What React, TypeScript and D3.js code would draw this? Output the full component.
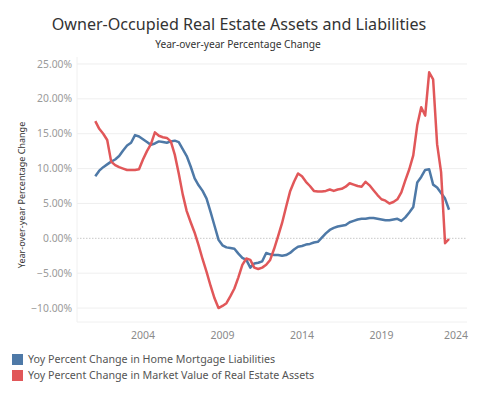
import React from 'react';
import * as d3 from 'd3';

// quarterly observations, 2001 Q1 .. 2023 Q2
const startYear = 2001;

const mortgageLiabilities = [
  8.9, 9.7, 10.2, 10.6,
  11.0, 11.3, 11.8, 12.6,
  13.3, 13.7, 14.8, 14.6,
  14.2, 13.8, 13.4, 13.6,
  13.9, 13.8, 13.7, 13.9,
  14.0, 13.8, 12.8, 11.8,
  10.3, 8.6, 7.6, 6.8,
  5.7, 3.8, 1.8, -0.2,
  -1.0, -1.3, -1.4, -1.5,
  -2.2, -2.8, -3.1, -4.2,
  -3.6, -3.5, -3.3, -2.1,
  -2.3, -2.4, -2.4, -2.5,
  -2.4, -2.1, -1.6, -1.2,
  -1.1, -0.9, -0.8, -0.6,
  -0.5, 0.1, 0.7, 1.2,
  1.5, 1.7, 1.8, 1.9,
  2.3, 2.5, 2.7, 2.8,
  2.8, 2.9, 2.9, 2.8,
  2.7, 2.6, 2.6, 2.7,
  2.8, 2.5, 3.0, 3.7,
  4.5, 8.0, 8.8, 9.8,
  9.9, 7.7, 7.3, 6.5,
  5.7, 4.1,
];

const realEstateAssets = [
  16.8, 15.7, 15.0, 14.1,
  11.0, 10.5, 10.2, 10.0,
  9.8, 9.8, 9.8, 9.9,
  11.3, 12.5, 13.5, 15.2,
  14.7, 14.5, 14.4, 13.9,
  12.0, 9.3, 6.3, 3.9,
  2.3, 0.8, -1.0, -3.0,
  -4.8, -6.8, -8.6, -10.0,
  -9.7, -9.3, -8.3, -7.2,
  -5.6, -3.8, -2.9, -3.1,
  -4.2, -4.4, -4.2, -3.8,
  -3.1, -1.5, 0.3, 2.2,
  4.5, 6.7, 8.1, 9.3,
  8.9, 8.1, 7.5, 6.8,
  6.7, 6.7, 6.8, 7.0,
  6.8, 7.0, 7.1, 7.4,
  7.9, 7.7, 7.5, 7.4,
  8.1, 7.6, 6.9, 6.2,
  5.6, 5.4, 5.0, 5.2,
  5.6, 6.6, 8.3, 9.9,
  11.9, 16.2, 18.8, 17.6,
  23.8, 22.8, 13.5, 9.5,
  -0.7, -0.1,
];

const yTicks = [-10, -5, 0, 5, 10, 15, 20, 25];
const xTicks = [2004, 2009, 2014, 2019, 2024];

const seriesNames = [
  'Yoy Percent Change in Home Mortgage Liabilities',
  'Yoy Percent Change in Market Value of Real Estate Assets',
];
const seriesColors = ['#4e79a7', '#e15759'];

const W = 477;
const H = 397;
const plot = { left: 77, right: 467, top: 57, bottom: 322 };
const font = '"Noto Sans", "Open Sans", sans-serif';

export default function App() {
  const x = d3.scaleLinear().domain([1999.85, 2024.38]).range([plot.left, plot.right]);
  const y = d3.scaleLinear().domain([-12, 26]).range([plot.bottom, plot.top]);

  const line = d3
    .line<number>()
    .x((_, i) => x(startYear + i / 4))
    .y((d) => y(d))
    .curve(d3.curveLinear);

  const series = [mortgageLiabilities, realEstateAssets];

  return (
    <svg
      width={W}
      height={H}
      style={{ position: 'absolute', left: 0, top: 0, background: '#fff' }}
      fontFamily={font}
    >
      <text x={239} y={30} textAnchor="middle" fontSize={16.1} fill="#333">
        Owner-Occupied Real Estate Assets and Liabilities
      </text>
      <text x={238} y={48} textAnchor="middle" fontSize={10.2} fill="#333">
        Year-over-year Percentage Change
      </text>

      {/* grid */}
      {yTicks.map((t) => (
        <line
          key={t}
          x1={plot.left}
          x2={plot.right}
          y1={y(t)}
          y2={y(t)}
          stroke={t === 0 ? '#c8c8c8' : '#efefef'}
          strokeWidth={1}
          strokeDasharray={t === 0 ? '1.5,1.5' : undefined}
        />
      ))}
      <line x1={plot.left} x2={plot.left} y1={plot.top} y2={plot.bottom} stroke="#f0f0f0" />
      <line x1={plot.left} x2={plot.right} y1={plot.bottom} y2={plot.bottom} stroke="#f0f0f0" />

      {/* y axis labels */}
      {yTicks.map((t) => (
        <text
          key={t}
          x={72}
          y={y(t)}
          dy="0.35em"
          textAnchor="end"
          fontSize={10.3}
          fill="#9a9a9a"
        >
          {d3.format('.2f')(t) + '%'}
        </text>
      ))}
      <text
        transform={`translate(25,${195}) rotate(-90)`}
        textAnchor="middle"
        fontSize={9}
        fill="#333"
      >
        Year-over-year Percentage Change
      </text>

      {/* x axis labels */}
      {xTicks.map((t) => {
        const cx = Math.min(x(t), plot.right - 11);
        return (
          <text key={t} x={cx} y={339} textAnchor="middle" fontSize={10.5} fill="#8a8a8a">
            {t}
          </text>
        );
      })}

      {/* lines */}
      {series.map((s, i) => (
        <path
          key={i}
          d={line(s) || ''}
          fill="none"
          stroke={seriesColors[i]}
          strokeWidth={2.5}
          strokeLinejoin="round"
        />
      ))}

      {/* legend */}
      {seriesNames.map((name, i) => (
        <g key={name} transform={`translate(12,${354 + i * 16})`}>
          <rect width={11} height={11} fill={seriesColors[i]} />
          <text x={16} y={9} fontSize={10.7} fill="#555">
            {name}
          </text>
        </g>
      ))}
    </svg>
  );
}
